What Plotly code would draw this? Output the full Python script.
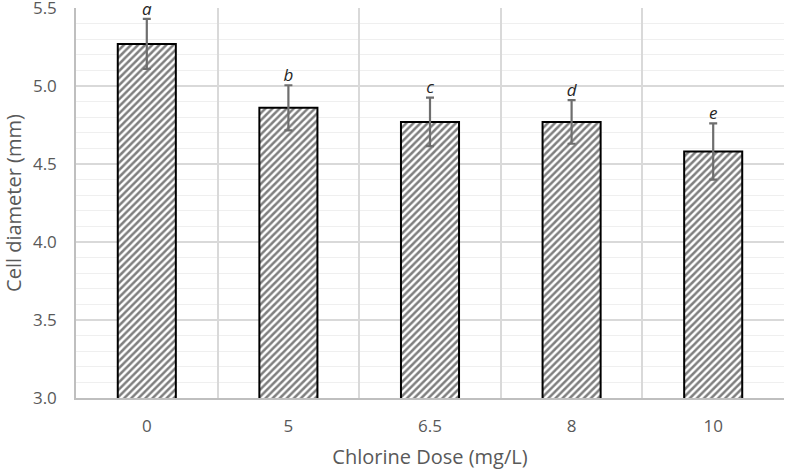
import plotly.graph_objects as go

# Dados
doses = ["0", "5", "6.5", "8", "10"]
diametro = [5.27, 4.86, 4.77, 4.77, 4.58]
erro = [0.16, 0.145, 0.155, 0.14, 0.18]
letras = ["a", "b", "c", "d", "e"]

topo_erro = [m + e for m, e in zip(diametro, erro)]

fig = go.Figure()

# Barras hachuradas com contorno preto
fig.add_trace(go.Bar(
    x=doses, y=diametro, width=0.41,
    marker=dict(
        color="white",
        line=dict(color="black", width=2),
        pattern=dict(shape="/", fgcolor="black", bgcolor="white", size=5, solidity=0.5),
    ),
    error_y=dict(type="data", array=erro, color="#6e6e6e", thickness=2.2, width=4),
    showlegend=False,
))

# Letras de significância acima das barras de erro
fig.add_trace(go.Scatter(
    x=doses, y=topo_erro, mode="text", text=letras,
    textposition="top center",
    textfont=dict(family="Open Sans", size=17, color="#262626", style="italic"),
    showlegend=False, cliponaxis=False,
))

fig.update_layout(
    width=788, height=474,
    margin=dict(l=76, r=4, t=8, b=76),
    paper_bgcolor="white", plot_bgcolor="white",
    font=dict(family="Open Sans", color="#595959", size=17),
    bargap=0.59,
)

fig.update_xaxes(
    type="category", tickson="boundaries", ticks="", automargin=False,
    showgrid=True, gridcolor="#d9d9d9", gridwidth=1.5,
    showline=True, linecolor="#bfbfbf", linewidth=1.5,
    tickfont=dict(size=17, color="#595959"), ticklabelstandoff=12,
    title=dict(text="Chlorine Dose (mg/L)", font=dict(size=20, color="#595959"), standoff=14),
)

fig.update_yaxes(
    range=[3, 5.5001], dtick=0.5, tickformat=".1f", automargin=False,
    ticklabeloverflow="allow",
    showgrid=True, gridcolor="#d9d9d9", gridwidth=1.5,
    minor=dict(dtick=0.1, showgrid=True, gridcolor="#efefef", gridwidth=1),
    showline=True, linecolor="#bfbfbf", linewidth=1.5,
    zeroline=False, ticks="",
    tickfont=dict(size=17, color="#595959"), ticklabelstandoff=14,
    title=dict(text="Cell diameter (mm)", font=dict(size=20, color="#595959"), standoff=10),
)

# remove a margem padrão do body para a figura ocupar a janela toda
fig.write_html("out.html", config={"displayModeBar": False},
               post_script="document.body.style.margin='0';")
